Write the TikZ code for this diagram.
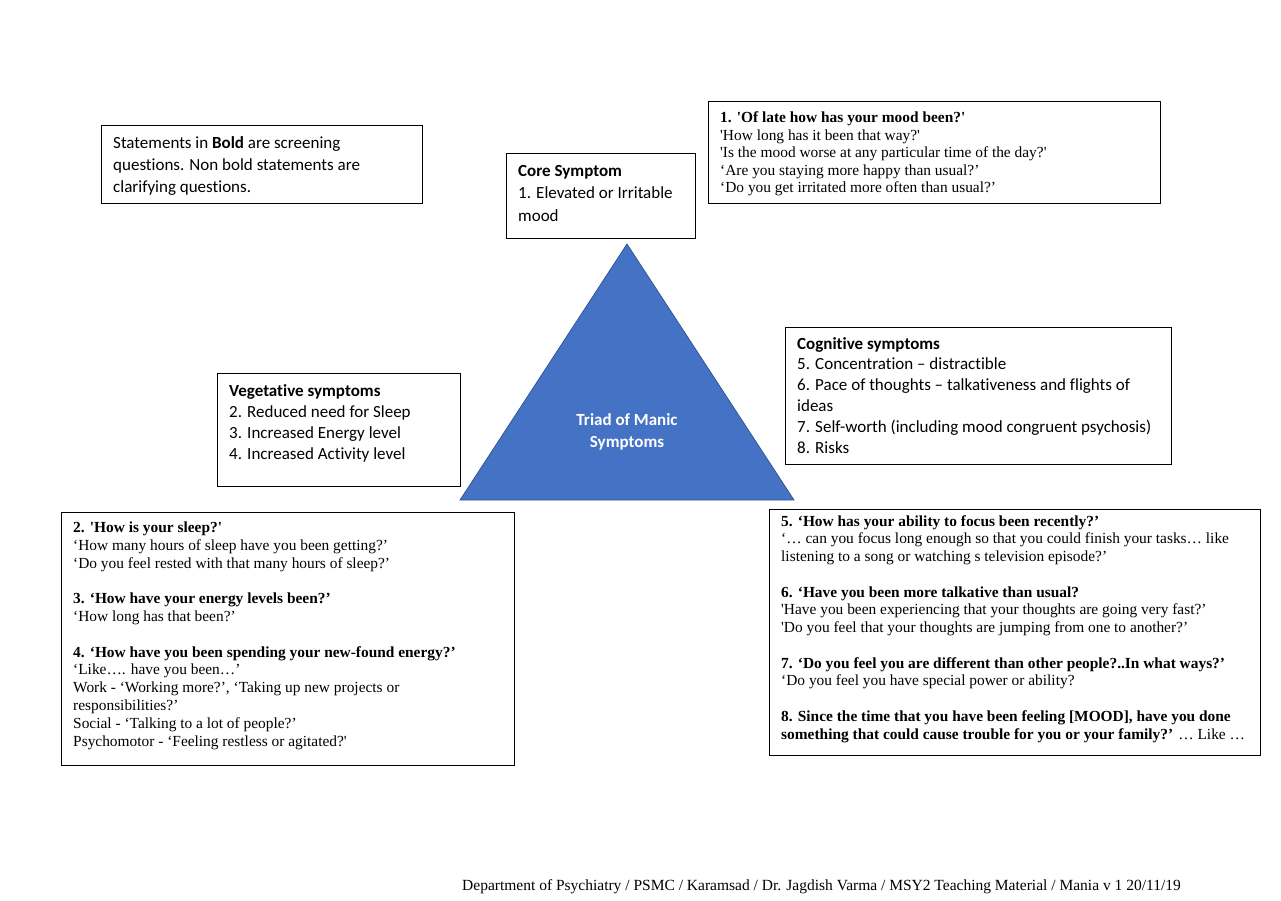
\documentclass[tikz,border=0pt]{standalone}
\usepackage{fontspec}
\setmainfont{Carlito}[Ligatures=NoCommon]
\newfontfamily\tnr{Liberation Serif}
\definecolor{triblue}{HTML}{4472C4}
\definecolor{triedge}{HTML}{2F528F}
\begin{document}
\begin{tikzpicture}[x=1pt,y=-1pt,
  box/.style={draw=black,line width=1pt},
  cal/.style={anchor=base west,inner sep=0pt,align=left,font=\fontsize{17}{20.8}\selectfont},
  tms/.style={anchor=base west,inner sep=0pt,align=left,font=\tnr\fontsize{15.4}{17.8}\selectfont}]
\useasboundingbox (0,0) rectangle (1281,900);
% boxes
\draw[box] (101,125) rectangle (422,203);
\draw[box] (506,153) rectangle (695,238);
\draw[box] (708,101) rectangle (1160,203);
\draw[box] (217,373) rectangle (460,486);
\draw[box] (785,327) rectangle (1171,464);
\draw[box] (61,512) rectangle (514,765);
\draw[box] (769,509) rectangle (1260,755);
% triangle
\coordinate (apex) at (627,244);
\coordinate (bl) at (460,500);
\coordinate (br) at (794,500);
\fill[triblue,draw=triedge,line width=0.7pt] (apex) -- (bl) -- (br) -- cycle;
\node[inner sep=0pt,align=center,text=white,font=\bfseries\fontsize{17}{22}\selectfont] (tri) at (627,432) {Triad of Manic\\Symptoms};
% texts (anchored at the baseline of the last line)
\node[cal,font=\fontsize{17}{22}\selectfont] (note) at (113,192) {Statements in \textbf{Bold} are screening\\questions. Non bold statements are\\clarifying questions.};
\node[cal,font=\fontsize{17}{22.5}\selectfont] (core) at (518,221) {\textbf{Core Symptom}\\1. Elevated or Irritable\\mood};
\node[tms,font=\tnr\fontsize{15.4}{17.5}\selectfont] (q1) at (720,192.5) {\textbf{1. 'Of late how has your mood been?'}\\'How long has it been that way?'\\'Is the mood worse at any particular time of the day?'\\‘Are you staying more happy than usual?’\\‘Do you get irritated more often than usual?’};
\node[cal] (veg) at (229,459) {\textbf{Vegetative symptoms}\\2. Reduced need for Sleep\\3. Increased Energy level\\4. Increased Activity level};
\node[cal] (cog) at (797,453) {\textbf{Cognitive symptoms}\\5. Concentration – distractible\\6. Pace of thoughts – talkativeness and flights of\\ideas\\7. Self-worth (including mood congruent psychosis)\\8. Risks};
\node[tms] (q2) at (73,746) {\textbf{2. 'How is your sleep?'}\\‘How many hours of sleep have you been getting?’\\‘Do you feel rested with that many hours of sleep?’\\[17.8pt]\textbf{3. ‘How have your energy levels been?’}\\‘How long has that been?’\\[17.8pt]\textbf{4. ‘How have you been spending your new-found energy?’}\\‘Like…. have you been…’\\Work - ‘Working more?’, ‘Taking up new projects or\\responsibilities?’\\Social - ‘Talking to a lot of people?’\\Psychomotor - ‘Feeling restless or agitated?'};
\node[tms,font=\tnr\fontsize{15.4}{17.75}\selectfont] (q5) at (781,739) {\textbf{5. ‘How has your ability to focus been recently?’}\\‘… can you focus long enough so that you could finish your tasks… like\\listening to a song or watching s television episode?’\\[17.75pt]\textbf{6. ‘Have you been more talkative than usual?}\\'Have you been experiencing that your thoughts are going very fast?’\\'Do you feel that your thoughts are jumping from one to another?’\\[17.75pt]\textbf{7. ‘Do you feel you are different than other people?..In what ways?’}\\‘Do you feel you have special power or ability?\\[17.75pt]\textbf{8. Since the time that you have been feeling [MOOD], have you done}\\\textbf{something that could cause trouble for you or your family?’} … Like …};
\node[anchor=base west,inner sep=0pt,font=\tnr\fontsize{15.5}{17}\selectfont] (foot) at (462,890) {Department of Psychiatry / PSMC / Karamsad / Dr. Jagdish Varma / MSY2 Teaching Material / Mania v 1 20/11/19};
\end{tikzpicture}
\end{document}
